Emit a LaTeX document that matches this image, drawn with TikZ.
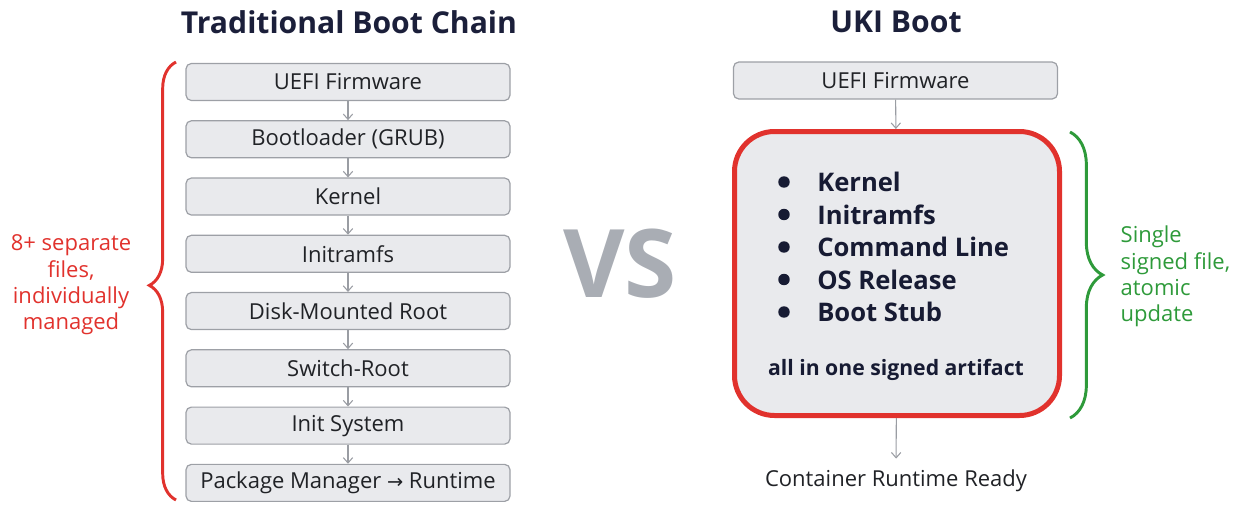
\documentclass[tikz,border=0pt]{standalone}
\usepackage{fontspec}
\setmainfont{Open Sans}
\newfontfamily\arrowfont{DejaVu Sans}
\usetikzlibrary{positioning, arrows.meta, decorations.pathreplacing}

\definecolor{boxfill}{HTML}{E9EAED}
\definecolor{boxline}{HTML}{9DA0A6}
\definecolor{boxtext}{HTML}{202226}
\definecolor{arrowgray}{HTML}{9A9DA3}
\definecolor{titleblue}{HTML}{1B1F3A}
\definecolor{itemblue}{HTML}{171B33}
\definecolor{ukired}{HTML}{E1322D}
\definecolor{ukigreen}{HTML}{2E9A3A}
\definecolor{vsgray}{HTML}{A9ADB4}

\tikzset{
stage/.style={draw=boxline, fill=boxfill, line width=0.9pt, rounded corners=4pt, minimum width=243pt, minimum height=27.75pt, inner sep=0pt, text=boxtext, font=\fontsize{16.5}{19}\selectfont}, % one box of a boot chain
flow/.style={-{Straight Barb[length=4pt,width=7pt]}, draw=arrowgray, line width=0.8pt}, % thin gray arrow
title/.style={text=titleblue, font=\bfseries\fontsize{22.6}{26}\selectfont},
item/.style={anchor=west, inner sep=0pt, text=itemblue, font=\bfseries\fontsize{19.2}{23}\selectfont},
ukibox/.style={draw=ukired, fill=boxfill, line width=3.75pt, rounded corners=30pt, minimum width=243.75pt, minimum height=213pt},
bracket/.style={decorate, line width=2.2pt},
note/.style={font=\fontsize{16.5}{19.7}\selectfont},
}

\begin{document}
\begin{tikzpicture}[x=0.75pt, y=-0.75pt, node distance=14.3pt]
\useasboundingbox (0,0) rectangle (1242,504);

% titles
\node[title] (titleL) at (349,22) {Traditional Boot Chain};
\node[title] (titleR) at (896,22) {UKI Boot};

% traditional chain
\node[stage] (uefiL) at (348,82) {UEFI Firmware};
\node[stage, below=of uefiL] (grub) {Bootloader (GRUB)};
\node[stage, below=of grub] (kernel) {Kernel};
\node[stage, below=of kernel] (initrd) {Initramfs};
\node[stage, below=of initrd] (diskroot) {Disk-Mounted Root};
\node[stage, below=of diskroot] (switch) {Switch-Root};
\node[stage, below=of switch] (init) {Init System};
\node[stage, below=of init] (pkg) {Package Manager {\arrowfont\fontsize{14.5}{19}\selectfont →} Runtime};

\draw[flow] (uefiL) -- (grub);
\draw[flow] (grub) -- (kernel);
\draw[flow] (kernel) -- (initrd);
\draw[flow] (initrd) -- (diskroot);
\draw[flow] (diskroot) -- (switch);
\draw[flow] (switch) -- (init);
\draw[flow] (init) -- (pkg);

\draw[bracket, draw=ukired, decoration={brace, amplitude=20pt, aspect=0.49}] (176,500) -- (176,62);
\node[note, text=ukired, align=center] (filesL) at (71,285) {8+ separate\\files,\\individually\\managed};

% vs
\node[text=vsgray, font=\bfseries\fontsize{71}{74}\selectfont] (vs) at (620,264) {VS};

% uki chain
\node[stage] (uefiR) at (895.5,80.5) {UEFI Firmware};
\node[ukibox] (uki) at (897,273.5) {};
\foreach \part [count=\i] in {Kernel, Initramfs, Command Line, OS Release, Boot Stub}{
  \fill[itemblue] (784,149.5+32.5*\i) circle (4.3pt);
  \node[item] (part\i) at (817,149.5+32.5*\i) {\part};
}
\node[text=itemblue, font=\bfseries\fontsize{15.9}{19}\selectfont] (signed) at (896,370) {all in one signed artifact};
\node[text=boxtext, font=\fontsize{16.5}{19}\selectfont] (ready) at (896,481) {Container Runtime Ready};

\draw[flow] (uefiR) -- (uki);
\draw[flow, shorten >=5pt] (uki) -- (ready);

\draw[bracket, draw=ukigreen, decoration={brace, amplitude=24.5pt}] (1070,132) -- (1070,418);
\node[note, text=ukigreen, align=left, anchor=west] (fileR) at (1116,276.5) {Single\\signed file,\\atomic\\update};
\end{tikzpicture}
\end{document}
